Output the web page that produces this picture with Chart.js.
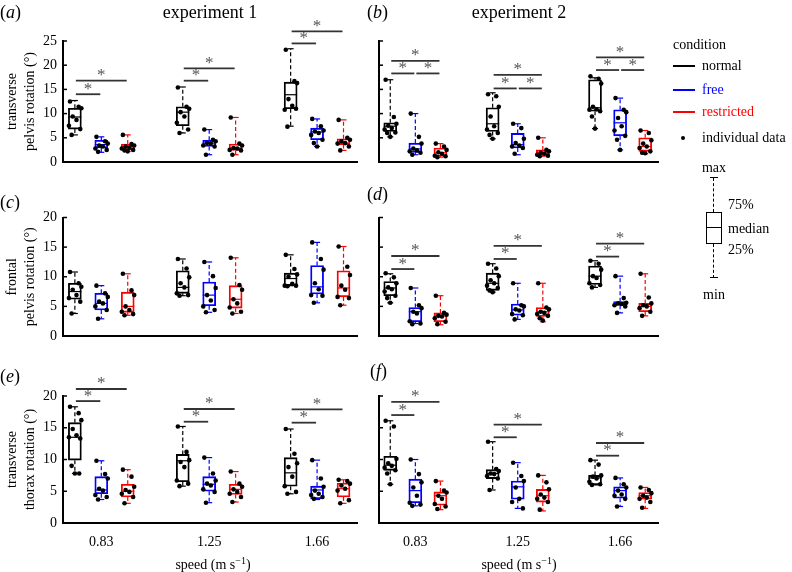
<!DOCTYPE html>
<html>
<head>
<meta charset="utf-8">
<script src="https://cdn.jsdelivr.net/npm/chart.js@4.4.1/dist/chart.umd.min.js"></script>
<style>
  body { margin: 0; background: #fff; }
  #wrap { position: relative; width: 792px; height: 572px; font-family: 'Liberation Serif', serif; color: #000; }
  canvas { position: absolute; left: 0; top: 0; }
  .c { position: absolute; white-space: nowrap; transform: translate(-50%, -50%); line-height: 1; }
  .l { position: absolute; white-space: nowrap; transform: translateY(-50%); line-height: 1; }
  .ln { position: absolute; height: 0; width: 22px; border-top: 2px solid; }
  sup { font-size: 10px; line-height: 0; vertical-align: 5px; }
</style>
</head>
<body>
<div id="wrap">
  <canvas id="pa" width="792" height="572"></canvas>
  <canvas id="pb" width="792" height="572"></canvas>
  <canvas id="pc" width="792" height="572"></canvas>
  <canvas id="pd" width="792" height="572"></canvas>
  <canvas id="pe" width="792" height="572"></canvas>
  <canvas id="pf" width="792" height="572"></canvas>

  <!-- panel letters and titles -->
  <div class="l" style="left:0;top:12px;font-size:18px">(<i>a</i>)</div>
  <div class="l" style="left:367px;top:12px;font-size:18px">(<i>b</i>)</div>
  <div class="l" style="left:0;top:202px;font-size:18px">(<i>c</i>)</div>
  <div class="l" style="left:367px;top:194px;font-size:18px">(<i>d</i>)</div>
  <div class="l" style="left:0;top:376px;font-size:18px">(<i>e</i>)</div>
  <div class="l" style="left:370px;top:371px;font-size:18px">(<i>f</i>)</div>
  <div class="c" style="left:210px;top:12px;font-size:18px">experiment 1</div>
  <div class="c" style="left:519px;top:12px;font-size:18px">experiment 2</div>
  <div class="c" style="left:213px;top:565px;font-size:14px">speed (m s<sup>−1</sup>)</div>
  <div class="c" style="left:519px;top:565px;font-size:14px">speed (m s<sup>−1</sup>)</div>

  <!-- legend -->
  <div class="l" style="left:673px;top:45px;font-size:14px">condition</div>
  <div class="ln" style="left:673px;top:65px;border-color:#000"></div>
  <div class="l" style="left:702px;top:66px;font-size:14px">normal</div>
  <div class="ln" style="left:673px;top:89px;border-color:#0000ff"></div>
  <div class="l" style="left:702px;top:90px;font-size:14px;color:#0000ff">free</div>
  <div class="ln" style="left:673px;top:111px;border-color:#ff0000"></div>
  <div class="l" style="left:702px;top:112px;font-size:14px;color:#ff0000">restricted</div>
  <div style="position:absolute;left:681px;top:136px;width:4px;height:4px;border-radius:50%;background:#000"></div>
  <div class="l" style="left:702px;top:138px;font-size:14px">individual data</div>

  <div class="c" style="left:714px;top:168px;font-size:14px">max</div>
  <div style="position:absolute;left:710px;top:177px;width:8px;border-top:1.5px solid #000"></div>
  <div style="position:absolute;left:713px;top:178px;height:34px;border-left:1.5px dashed #000"></div>
  <div style="position:absolute;left:706px;top:212px;width:16px;height:32px;box-sizing:border-box;border:1.5px solid #000"></div>
  <div style="position:absolute;left:706px;top:227px;width:16px;border-top:1.5px solid #000"></div>
  <div style="position:absolute;left:713px;top:244px;height:34px;border-left:1.5px dashed #000"></div>
  <div style="position:absolute;left:710px;top:277px;width:8px;border-top:1.5px solid #000"></div>
  <div class="c" style="left:714px;top:295px;font-size:14px">min</div>
  <div class="l" style="left:728px;top:205px;font-size:14px">75%</div>
  <div class="l" style="left:728px;top:229px;font-size:14px">median</div>
  <div class="l" style="left:728px;top:250px;font-size:14px">25%</div>
</div>

<script>
const speeds = ['0.83', '1.25', '1.66'];
const conditions = ['normal', 'free', 'restricted'];
const yTitles = [
    ['transverse', 'pelvis rotation (°)'],
    ['frontal', 'pelvis rotation (°)'],
    ['transverse', 'thorax rotation (°)']
];

// box stats: [min, q1, median, q3, max], per speed, then per condition
const boxA = [
    [[5.6, 6.8, 9.3, 11.1, 12.7], [2.0, 2.9, 3.6, 4.5, 5.2], [2.2, 2.5, 3.2, 3.7, 5.6]],
    [[6.0, 7.5, 10.3, 11.4, 15.5], [1.5, 3.2, 3.9, 4.5, 6.7], [1.5, 2.4, 2.9, 3.7, 9.2]],
    [[7.4, 11.0, 13.9, 16.5, 23.4], [3.2, 4.6, 6.2, 7.0, 8.9], [2.4, 3.6, 3.9, 4.8, 8.7]]
];
const pointsA = [
    [[12.5, 11.4, 11.1, 9.4, 8.7, 7.5, 6.8, 5.6], [5.2, 4.3, 3.8, 3.4, 3.2, 2.8, 2.5, 2.1], [5.6, 3.7, 3.4, 3.2, 3.0, 2.8, 2.5, 2.4, 2.2]],
    [[15.4, 11.4, 11.0, 10.3, 9.4, 8.1, 6.7, 6.0], [6.7, 4.6, 4.3, 3.9, 3.8, 3.4, 3.2, 1.5], [9.2, 3.8, 3.4, 2.9, 2.8, 2.5, 2.4, 1.5]],
    [[23.2, 16.7, 16.3, 13.0, 11.6, 10.8, 11.0, 7.3], [8.9, 7.4, 6.5, 6.3, 6.0, 5.6, 4.6, 3.9, 3.2], [8.7, 5.0, 4.6, 4.3, 3.9, 3.8, 3.2, 2.4]]
];
// significance bars: [speed, from condition, to condition, y]
const sigA = [[0, 0, 1, 14.0], [0, 0, 2, 16.8], [1, 0, 1, 16.8], [1, 0, 2, 19.35], [2, 0, 1, 24.5], [2, 0, 2, 27.0]];

const boxB = [
    [[5.2, 6.3, 7.4, 8.1, 17.0], [1.5, 2.0, 2.7, 3.9, 10.0], [1.0, 1.2, 1.9, 2.9, 3.8]],
    [[4.8, 6.3, 7.9, 11.2, 14.3], [1.5, 2.9, 3.6, 5.9, 7.9], [1.2, 1.5, 1.9, 2.5, 5.0]],
    [[6.9, 10.5, 11.2, 17.0, 17.4], [2.5, 5.4, 8.1, 10.8, 13.2], [1.7, 2.2, 3.2, 5.0, 6.5]]
];
const pointsB = [
    [[17.0, 9.3, 7.9, 7.5, 7.0, 6.7, 6.1, 6.0, 5.2], [10.0, 5.2, 3.8, 2.8, 2.4, 2.2, 1.9, 1.5], [3.8, 3.2, 2.5, 2.0, 1.7, 1.3, 1.2, 1.0]],
    [[14.0, 13.6, 11.4, 9.4, 7.4, 6.7, 6.0, 5.6, 4.8], [7.9, 7.0, 4.8, 3.9, 3.4, 3.2, 2.9, 1.7], [5.0, 2.5, 2.2, 1.9, 1.7, 1.5, 1.3, 1.2]],
    [[17.7, 17.2, 16.2, 11.4, 10.9, 10.8, 10.5, 9.4, 6.9], [13.2, 10.8, 10.3, 9.1, 7.4, 6.5, 5.4, 4.6, 2.5], [6.5, 6.0, 4.5, 3.8, 3.2, 2.9, 2.2, 1.9, 1.8]]
];
const sigB = [[0, 0, 1, 18.3], [0, 1, 2, 18.3], [0, 0, 2, 20.9], [1, 0, 1, 15.2], [1, 1, 2, 15.2], [1, 0, 2, 18.0], [2, 0, 1, 19.0], [2, 1, 2, 19.0], [2, 0, 2, 21.6]];

const boxC = [
    [[3.8, 6.2, 7.5, 8.9, 10.8], [2.9, 4.4, 5.5, 7.2, 8.5], [3.5, 4.0, 5.0, 7.4, 10.5]],
    [[6.8, 7.2, 8.2, 11.0, 13.0], [4.0, 5.1, 6.9, 9.1, 12.5], [3.8, 4.7, 6.2, 8.5, 13.2]],
    [[8.5, 8.5, 9.7, 10.6, 13.7], [5.6, 7.1, 8.3, 11.9, 15.8], [5.2, 6.6, 8.1, 11.0, 15.1]]
];
const pointsC = [
    [[10.8, 8.9, 8.3, 7.8, 6.9, 6.4, 5.8, 3.8], [8.5, 7.2, 6.6, 5.8, 5.5, 5.0, 4.4, 2.9], [10.5, 7.7, 6.9, 5.0, 4.4, 4.1, 3.7, 3.5]],
    [[13.0, 11.4, 9.9, 8.9, 8.2, 7.2, 6.9, 6.8], [12.5, 10.1, 8.1, 6.9, 6.0, 5.0, 4.4, 4.0], [13.2, 8.6, 7.8, 6.2, 5.5, 4.8, 4.1, 3.8]],
    [[13.7, 11.3, 10.4, 10.0, 8.8, 8.5, 8.5, 8.4], [15.8, 13.0, 11.2, 8.9, 7.9, 6.9, 6.8, 5.6], [15.1, 11.7, 10.3, 8.5, 7.8, 6.6, 6.4, 5.2]]
];
const sigC = [];

const boxD = [
    [[5.6, 6.8, 8.1, 9.2, 10.5], [2.1, 2.4, 4.1, 4.8, 8.1], [1.9, 2.4, 3.4, 3.9, 6.8]],
    [[7.4, 7.7, 8.9, 10.6, 12.2], [2.8, 3.5, 4.4, 5.4, 8.9], [2.4, 3.3, 4.1, 4.8, 8.9]],
    [[8.2, 8.7, 10.1, 11.8, 12.7], [3.9, 5.2, 5.5, 5.8, 10.1], [3.4, 4.1, 5.0, 5.5, 10.5]]
];
const pointsD = [
    [[10.6, 9.9, 8.9, 8.2, 7.9, 7.5, 6.8, 6.4, 5.6], [8.1, 5.2, 4.7, 4.1, 3.8, 2.5, 2.1, 2.0], [6.8, 3.9, 3.6, 3.4, 3.3, 3.0, 2.4, 2.0]],
    [[12.2, 11.4, 10.1, 9.4, 8.9, 8.5, 8.1, 7.7, 7.4], [8.9, 5.2, 5.0, 4.5, 4.3, 3.7, 3.5, 2.8], [8.9, 4.8, 4.5, 4.1, 3.9, 3.7, 3.4, 3.0, 2.6]],
    [[12.7, 12.2, 11.2, 10.1, 9.8, 8.9, 8.6, 8.2], [10.1, 6.4, 5.6, 5.5, 5.4, 5.2, 5.0, 3.9], [10.5, 6.5, 5.5, 5.2, 5.0, 4.7, 4.1, 3.4]]
];
const sigD = [[0, 0, 1, 11.3], [0, 0, 2, 13.5], [1, 0, 1, 13.0], [1, 0, 2, 15.2], [2, 0, 1, 13.4], [2, 0, 2, 15.6]];

const boxE = [
    [[7.8, 9.9, 13.5, 15.8, 18.3], [3.7, 4.6, 5.2, 7.3, 9.8], [3.1, 4.1, 5.0, 6.1, 8.4]],
    [[5.8, 6.5, 9.8, 10.8, 15.2], [3.2, 5.0, 6.1, 7.3, 10.3], [3.3, 4.5, 5.3, 6.1, 8.1]],
    [[4.6, 5.8, 7.9, 10.3, 14.8], [3.7, 3.8, 5.2, 5.8, 9.9], [3.1, 4.1, 5.4, 6.3, 6.8]]
];
const pointsE = [
    [[18.3, 17.3, 16.2, 14.8, 13.8, 13.5, 13.3, 9.0, 7.8, 7.8], [9.8, 7.7, 7.0, 5.4, 5.1, 4.4, 4.1, 3.7], [8.4, 7.3, 5.7, 5.2, 4.9, 4.6, 4.1, 3.1]],
    [[15.2, 11.2, 9.9, 9.6, 8.8, 6.7, 6.2, 5.8], [10.3, 7.8, 6.7, 6.2, 5.9, 5.3, 4.9, 3.2], [8.1, 6.2, 5.7, 5.3, 4.9, 4.6, 4.1, 3.3]],
    [[14.8, 10.9, 9.4, 8.8, 7.3, 5.8, 4.9, 4.6], [9.9, 7.0, 5.7, 5.1, 4.6, 4.4, 4.1, 3.8], [6.8, 6.6, 6.2, 5.9, 5.4, 5.1, 3.6, 3.1]]
];
const sigE = [[0, 0, 1, 19.2], [0, 0, 2, 21.1], [1, 0, 1, 15.95], [1, 0, 2, 17.95], [2, 0, 1, 15.8], [2, 0, 2, 17.9]];

const boxF = [
    [[6.1, 8.3, 9.1, 10.5, 16.1], [2.7, 3.2, 5.1, 6.9, 10.0], [2.1, 2.8, 4.3, 4.9, 6.6]],
    [[5.2, 7.0, 7.8, 8.4, 12.8], [2.3, 3.75, 5.7, 6.6, 9.5], [1.9, 3.3, 4.3, 5.3, 7.5]],
    [[6.0, 6.0, 7.1, 7.5, 9.9], [2.6, 3.9, 5.1, 5.7, 7.1], [2.3, 3.75, 4.3, 4.8, 5.6]]
];
const pointsF = [
    [[16.1, 15.2, 10.1, 9.4, 9.0, 8.7, 8.3, 7.8, 6.1], [10.0, 7.7, 6.4, 5.6, 4.3, 3.2, 2.9, 2.7], [6.6, 5.1, 4.8, 4.3, 3.8, 3.0, 2.6, 2.2]],
    [[12.8, 8.5, 8.2, 7.8, 7.7, 7.4, 7.0, 5.2], [9.5, 7.4, 6.6, 5.6, 3.8, 3.3, 2.3], [7.5, 6.4, 5.3, 4.5, 4.0, 3.8, 3.3, 2.1]],
    [[9.9, 9.2, 7.5, 7.3, 7.0, 6.5, 6.1, 6.0], [7.1, 6.1, 5.6, 5.1, 4.5, 4.3, 3.8, 2.6], [5.6, 5.2, 4.7, 4.3, 4.0, 3.8, 3.3, 2.4]]
];
const sigF = [[0, 0, 1, 17.0], [0, 0, 2, 19.06], [1, 0, 1, 13.5], [1, 0, 2, 15.5], [2, 0, 1, 10.6], [2, 0, 2, 12.6]];

// styling / layout
const colors = ['#000000', '#0000ff', '#ff0000'];
const offsets = [-0.245, 0, 0.245];
const jitter = [-0.045, 0.035, 0.06, -0.02, 0.015, -0.055, 0.05, -0.03, 0.0, 0.04];
const boxW = 13;
const cols = [{ left: 63, right: 357, yw: 63 }, { left: 379, right: 658, yw: 10 }];
const rows = [
    { top: 41, bottom: 162, max: 25, xh: 0 },
    { top: 217.5, bottom: 336, max: 20, xh: 0 },
    { top: 396, bottom: 523, max: 20, xh: 30 }
];

Chart.defaults.font.family = "'Liberation Serif', serif";
Chart.defaults.color = '#000';

function line(ctx, x1, y1, x2, y2) {
    ctx.beginPath();
    ctx.moveTo(x1, y1);
    ctx.lineTo(x2, y2);
    ctx.stroke();
}

// whiskers, medians, inward ticks and significance bars
function extrasPlugin(boxes, sig) {
    return {
        id: 'extras',
        beforeDatasetDraw(chart, args) {
            if (chart.data.datasets[args.index].type !== 'scatter') return;
            const ctx = chart.ctx, xs = chart.scales.x, ys = chart.scales.y;
            ctx.save();
            ctx.lineWidth = 1.2;
            boxes.forEach((grp, si) => grp.forEach((b, ci) => {
                const cx = xs.getPixelForValue(si + 1 + offsets[ci]);
                ctx.strokeStyle = colors[ci];
                ctx.setLineDash([]);
                const ym = ys.getPixelForValue(b[2]);
                line(ctx, cx - boxW / 2, ym, cx + boxW / 2, ym);
                line(ctx, cx - 3, ys.getPixelForValue(b[4]), cx + 3, ys.getPixelForValue(b[4]));
                line(ctx, cx - 3, ys.getPixelForValue(b[0]), cx + 3, ys.getPixelForValue(b[0]));
                ctx.setLineDash([4, 2.5]);
                line(ctx, cx, ys.getPixelForValue(b[3]), cx, ys.getPixelForValue(b[4]));
                line(ctx, cx, ys.getPixelForValue(b[1]), cx, ys.getPixelForValue(b[0]));
            }));
            ctx.restore();
        },
        afterDraw(chart) {
            const ctx = chart.ctx, xs = chart.scales.x, ys = chart.scales.y;
            const left = chart.chartArea.left;
            ctx.save();
            ctx.strokeStyle = '#000';
            ctx.lineWidth = 1.5;
            ys.ticks.forEach(t => {
                const y = ys.getPixelForValue(t.value);
                line(ctx, left, y, left + 4, y);
            });
            ctx.strokeStyle = '#333';
            ctx.lineWidth = 1.8;
            ctx.fillStyle = '#555';
            ctx.font = "17px 'Liberation Serif', serif";
            ctx.textAlign = 'center';
            ctx.textBaseline = 'middle';
            sig.forEach(s => {
                const x1 = xs.getPixelForValue(s[0] + 1 + offsets[s[1]]) + 1;
                const x2 = xs.getPixelForValue(s[0] + 1 + offsets[s[2]]) - 1;
                const y = ys.getPixelForValue(s[3]);
                line(ctx, x1, y, x2, y);
                ctx.fillText('*', (x1 + x2) / 2, y - 5);
            });
            ctx.restore();
        }
    };
}

function makePanel(id, boxes, points, sig, c, r) {
    const col = cols[c], row = rows[r];
    const datasets = [];
    const pts = [];
    points.forEach((grp, si) => grp.forEach((vals, ci) => vals.forEach((v, k) => {
        pts.push({ x: si + 1 + offsets[ci] + jitter[k % jitter.length], y: v });
    })));
    datasets.push({
        type: 'scatter',
        data: pts,
        order: 0,
        pointRadius: 2.3,
        backgroundColor: '#000',
        borderWidth: 0
    });
    conditions.forEach((name, ci) => {
        datasets.push({
            type: 'bar',
            label: name,
            order: 1,
            data: boxes.map((b, si) => ({ x: si + 1 + offsets[ci], y: [b[ci][1], b[ci][3]] })),
            backgroundColor: 'rgba(255,255,255,0)',
            borderColor: colors[ci],
            borderWidth: 1.2,
            borderSkipped: false,
            grouped: false,
            barThickness: boxW,
            maxBarThickness: boxW
        });
    });

    new Chart(document.getElementById(id), {
        type: 'scatter',
        data: { datasets: datasets },
        options: {
            responsive: false,
            animation: false,
            layout: {
                padding: {
                    left: col.left - col.yw,
                    right: 792 - col.right,
                    top: row.top,
                    bottom: 572 - row.bottom - row.xh
                }
            },
            plugins: { legend: { display: false }, tooltip: { enabled: false } },
            scales: {
                x: {
                    type: 'linear',
                    min: 0.645,
                    max: 3.37,
                    offset: false,
                    grid: { display: false, drawTicks: false, offset: false },
                    border: { display: true, width: 2, color: '#000' },
                    afterBuildTicks: s => { s.ticks = speeds.map((_, i) => ({ value: i + 1 })); },
                    ticks: {
                        display: r === 2,
                        padding: 11,
                        maxRotation: 0,
                        autoSkip: false,
                        font: { size: 14 },
                        callback: (v, i) => speeds[i]
                    },
                    afterFit: s => { s.height = row.xh; }
                },
                y: {
                    type: 'linear',
                    min: 0,
                    max: row.max,
                    grid: { display: false, drawTicks: false },
                    border: { display: true, width: 2, color: '#000' },
                    ticks: { display: c === 0, stepSize: 5, padding: 6, font: { size: 14 } },
                    title: {
                        display: c === 0,
                        text: yTitles[r],
                        font: { size: 14, lineHeight: 1.25 },
                        padding: { top: 4, bottom: 0 }
                    },
                    afterFit: s => { s.width = col.yw; }
                }
            }
        },
        plugins: [extrasPlugin(boxes, sig)]
    });
}

makePanel('pa', boxA, pointsA, sigA, 0, 0);
makePanel('pb', boxB, pointsB, sigB, 1, 0);
makePanel('pc', boxC, pointsC, sigC, 0, 1);
makePanel('pd', boxD, pointsD, sigD, 1, 1);
makePanel('pe', boxE, pointsE, sigE, 0, 2);
makePanel('pf', boxF, pointsF, sigF, 1, 2);
</script>
</body>
</html>
